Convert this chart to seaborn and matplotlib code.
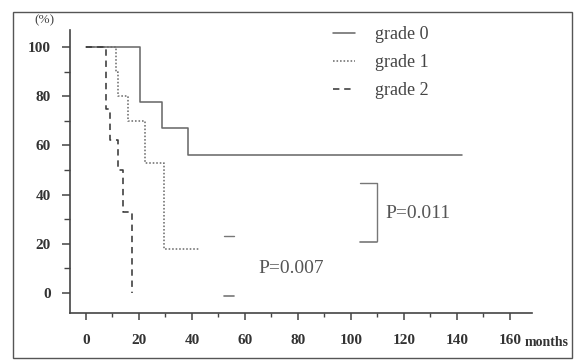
import numpy as np
import pandas as pd
import matplotlib
matplotlib.use("Agg")
import matplotlib.pyplot as plt
from matplotlib.patches import Rectangle
import seaborn as sns

# ---- data ----
grade0_months = [0, 20.4, 28.7, 38.5, 142]
grade0_surv = [100, 77.5, 67, 56, 56]
grade1_months = [0, 11.5, 12, 15.8, 22.3, 29.4, 42.6]
grade1_surv = [100, 90, 80, 70, 53, 18, 18]
grade2_months = [0, 7.5, 9, 12, 14, 17.5]
grade2_surv = [100, 75, 62, 50, 33, 0]
group_labels = ["grade 0", "grade 1", "grade 2"]
x_ticks = [0, 20, 40, 60, 80, 100, 120, 140, 160]
y_ticks = [0, 20, 40, 60, 80, 100]
p_texts = ["P=0.007", "P=0.011"]

frames = []
for lab, t, s in zip(group_labels,
                     [grade0_months, grade1_months, grade2_months],
                     [grade0_surv, grade1_surv, grade2_surv]):
    frames.append(pd.DataFrame({"month": t, "surv": s, "group": lab}))
df = pd.concat(frames, ignore_index=True)

sns.set_theme(style="ticks")
plt.rcParams["font.family"] = ["Liberation Serif", "DejaVu Serif"]

fig = plt.figure(figsize=(5.8, 3.6), dpi=100)
ax = fig.add_axes([70 / 580, 1 - 313 / 360, (532 - 70) / 580, (313 - 30) / 360])

palette = {"grade 0": "#6a6a6a", "grade 1": "#6e6e6e", "grade 2": "#3a3a3a"}
dashes = {"grade 0": "", "grade 1": (1, 1.2), "grade 2": (4, 3)}
sns.lineplot(data=df, x="month", y="surv", hue="group", style="group",
             palette=palette, dashes=dashes, estimator=None, sort=False,
             drawstyle="steps-post", linewidth=1.15, ax=ax)

ax.set_xlim(-6, 168.3)
ax.set_ylim(-8.1, 106.9)
ax.set_xticks(x_ticks)
ax.set_xticks(np.arange(10, 170, 20), minor=True)
ax.set_yticks(y_ticks)
ax.set_yticks(np.arange(10, 100, 20), minor=True)
ax.set_xlabel("")
ax.set_ylabel("")
for sp in ["top", "right"]:
    ax.spines[sp].set_visible(False)
for sp in ["left", "bottom"]:
    ax.spines[sp].set_color("#444444")
    ax.spines[sp].set_linewidth(1.2)
ax.tick_params(axis="y", which="major", length=6, width=1.1, pad=8,
               colors="#444444", labelcolor="#333333", labelsize=11)
ax.tick_params(axis="y", which="minor", length=4, width=1.0, colors="#444444")
ax.tick_params(axis="x", which="major", length=5, width=1.1, pad=10,
               colors="#444444", labelcolor="#333333", labelsize=11)
ax.tick_params(axis="x", which="minor", length=3, width=1.0, colors="#444444")
for lab in ax.get_xticklabels() + ax.get_yticklabels():
    lab.set_fontweight("bold")

# legend
leg = ax.legend(loc="upper left", bbox_to_anchor=(0.535, 1.071), frameon=False,
                fontsize=13, handlelength=1.2, handletextpad=1.1,
                labelspacing=0.6)
for t in leg.get_texts():
    t.set_color("#444444")

# P-value annotations
lc = "#777777"
ax.plot([52, 56], [23, 23], color=lc, lw=1.0)
ax.plot([52, 56], [-1, -1], color=lc, lw=1.2)
ax.text(65, 10, p_texts[0], fontsize=14, color="#555555", va="center", ha="left")
ax.plot([103.4, 109.8, 109.8], [44.7, 44.7, 21], color=lc, lw=1.0)
ax.plot([103.4, 109.8], [20.7, 20.7], color=lc, lw=1.2)
ax.text(112.8, 32.5, p_texts[1], fontsize=14, color="#555555", va="center", ha="left")

# axis labels
fig.text(44 / 580, 1 - 20 / 360, "(%)", fontsize=9.5, color="#444444",
         ha="center", va="center")
fig.text(547 / 580, 1 - 343 / 360, "months", fontsize=10, color="#333333",
         ha="center", va="center", fontweight="bold")

# outer frame
fig.patches.append(Rectangle((13 / 580, 1 - 358 / 360), (572 - 13) / 580,
                             (358 - 12) / 360, transform=fig.transFigure,
                             fill=False, edgecolor="#555555", lw=1.0))

fig.savefig("out.png", dpi=100)
